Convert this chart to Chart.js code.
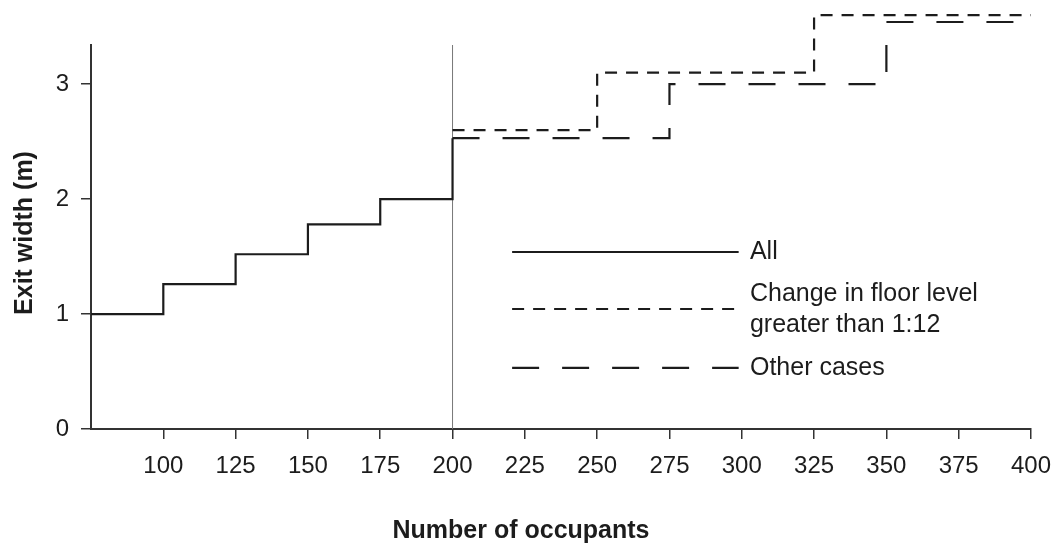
<!DOCTYPE html>
<html>
<head>
<meta charset="utf-8">
<script src="https://cdn.jsdelivr.net/npm/chart.js@4.4.1/dist/chart.umd.min.js"></script>
<style>
  html, body { margin: 0; padding: 0; background: #fff; }
  #wrap { width: 1053px; height: 544px; }
</style>
</head>
<body>
<div id="wrap"><canvas id="exitChart"></canvas></div>
<script>
// valores
const occupantsAll = [75, 100, 125, 150, 175, 200];
const widthAll = [1.0, 1.26, 1.52, 1.78, 2.0, 2.53];

const occupantsFloor = [200, 250, 325, 400];
const widthFloor = [2.6, 3.1, 3.6, 3.6];

const occupantsOther = [200, 275, 350, 400];
const widthOther = [2.53, 3.0, 3.54, 3.54];

const xTicks = [100, 125, 150, 175, 200, 225, 250, 275, 300, 325, 350, 375, 400];
const yTicks = [0, 1, 2, 3];

const xMin = 75, xMax = 400;
const yMin = 0, yMax = 3.34;
const splitAt = 200;

const legendLabels = ['All', ['Change in floor level', 'greater than 1:12'], 'Other cases'];

const FONT = 'Arial, "Liberation Sans", sans-serif';
const INK = '#1c1c1c';

const toPoints = (xs, ys) => xs.map((x, i) => ({x: x, y: ys[i]}));

// leyenda y titulos dibujados a mano
const extrasPlugin = {
    id: 'extras',
    afterDraw(chart) {
        const {ctx, chartArea: a} = chart;
        const w = a.right - a.left, h = a.bottom - a.top;
        const x1 = a.left + w * 0.448, x2 = a.left + w * 0.689, tx = a.left + w * 0.701;
        const rows = [0.539, 0.6875, 0.841];

        ctx.save();
        ctx.font = '25px ' + FONT;
        ctx.fillStyle = INK;
        ctx.textBaseline = 'middle';
        chart.data.datasets.slice(0, 3).forEach((ds, i) => {
            const y = a.top + h * rows[i];
            ctx.beginPath();
            ctx.strokeStyle = ds.borderColor;
            ctx.lineWidth = ds.borderWidth;
            ctx.setLineDash(ds.borderDash || []);
            ctx.moveTo(x1, y);
            ctx.lineTo(x2, y);
            ctx.stroke();
            const lbl = legendLabels[i];
            if (Array.isArray(lbl)) {
                ctx.fillText(lbl[0], tx, y - 15);
                ctx.fillText(lbl[1], tx, y + 16);
            } else {
                ctx.fillText(lbl, tx, y);
            }
        });
        ctx.setLineDash([]);

        ctx.font = 'bold 25px ' + FONT;
        ctx.textAlign = 'center';
        ctx.fillText('Number of occupants', 521, 531);
        ctx.translate(25, (a.top + a.bottom) / 2 - 4);
        ctx.rotate(-Math.PI / 2);
        ctx.fillText('Exit width (m)', 0, 0);
        ctx.restore();
    }
};

const seriesStyle = {
    stepped: 'before',
    borderColor: INK,
    borderWidth: 2.2,
    pointRadius: 0,
    fill: false,
    clip: false
};

const renderExitChart = () => {
    const ctx = document.getElementById('exitChart').getContext('2d');
    new Chart(ctx, {
        type: 'line',
        data: {
            datasets: [
                {...seriesStyle, label: 'All', data: toPoints(occupantsAll, widthAll)},
                {...seriesStyle, label: 'Change in floor level greater than 1:12',
                    data: toPoints(occupantsFloor, widthFloor), borderDash: [12, 9]},
                {...seriesStyle, label: 'Other cases',
                    data: toPoints(occupantsOther, widthOther), borderDash: [27, 23]},
                {label: 'split', data: [{x: splitAt, y: yMin}, {x: splitAt, y: yMax}],
                    borderColor: '#777', borderWidth: 1, pointRadius: 0, order: 5}
            ]
        },
        options: {
            responsive: true,
            maintainAspectRatio: false,
            animation: false,
            layout: {padding: {top: 45, right: 22, left: 0, bottom: 0}},
            plugins: {
                legend: {display: false},
                tooltip: {enabled: false}
            },
            scales: {
                x: {
                    type: 'linear',
                    min: xMin,
                    max: xMax,
                    afterBuildTicks: s => { s.ticks = xTicks.map(v => ({value: v})); },
                    afterFit: s => { s.height = 115; s.paddingRight = 0; s.paddingLeft = 0; },
                    grid: {drawOnChartArea: false, tickLength: 10, color: '#333', lineWidth: 1.5},
                    border: {color: '#333', width: 2},
                    ticks: {font: {family: FONT, size: 24}, color: INK, padding: 13,
                        maxRotation: 0, autoSkip: false}
                },
                y: {
                    min: yMin,
                    max: yMax,
                    afterBuildTicks: s => { s.ticks = yTicks.map(v => ({value: v})); },
                    afterFit: s => { s.width = 91; },
                    grid: {drawOnChartArea: false, tickLength: 10, color: '#333', lineWidth: 1.5},
                    border: {color: '#333', width: 2},
                    ticks: {font: {family: FONT, size: 24}, color: INK, padding: 12}
                }
            }
        },
        plugins: [extrasPlugin]
    });
};

document.addEventListener('DOMContentLoaded', renderExitChart);
</script>
</body>
</html>
